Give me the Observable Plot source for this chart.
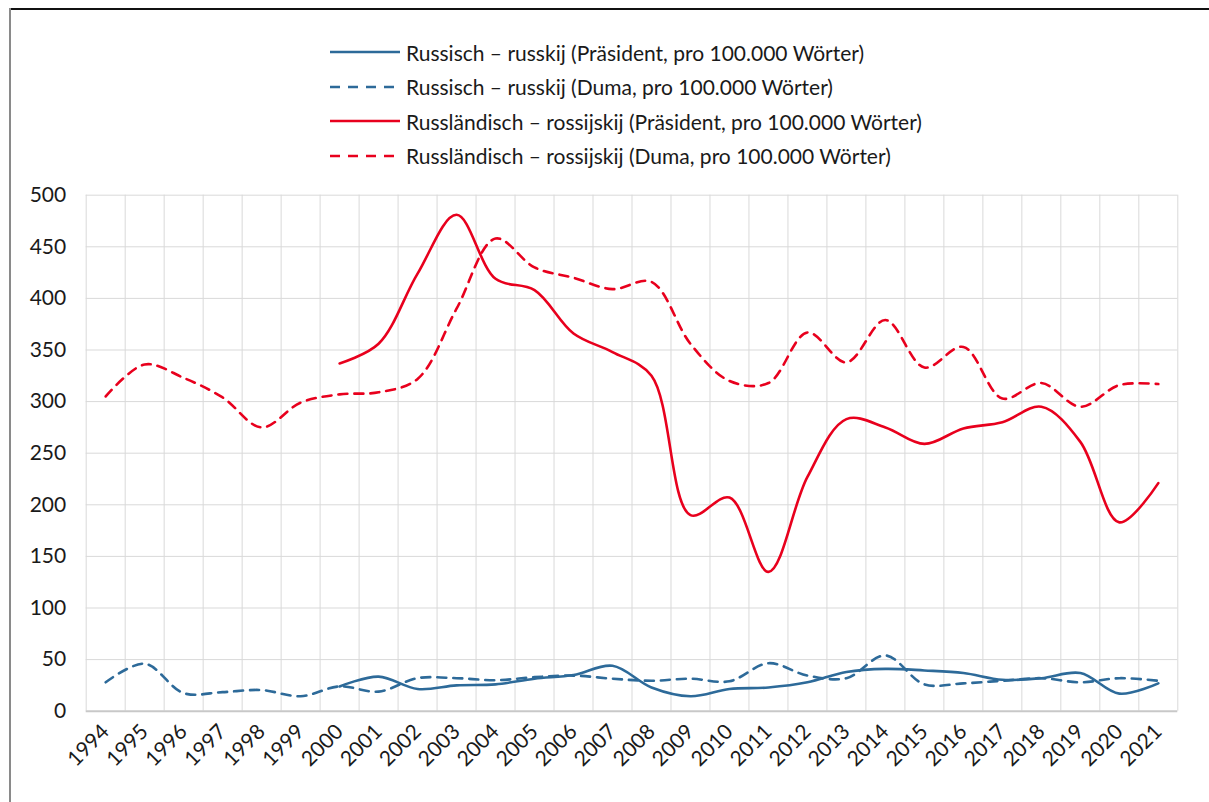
<!DOCTYPE html>
<html>
<head>
<meta charset="utf-8">
<script src="https://cdn.jsdelivr.net/npm/d3@7"></script>
<script src="https://cdn.jsdelivr.net/npm/@observablehq/plot@0.6"></script>
<style>
  html, body { margin: 0; padding: 0; background: #fff; }
  body { width: 1209px; height: 802px; position: relative; overflow: hidden; font-family: Lato, "Open Sans", sans-serif; }
  #frameTop { position: absolute; left: 10px; top: 8px; width: 1199px; height: 0; border-top: 2px solid #111; z-index: 10; }
  #frameLeft { position: absolute; left: 9px; top: 8px; width: 0; height: 794px; border-left: 2px solid #8a8a8a; z-index: 10; }
  #legend { position: absolute; left: 330px; top: 35px; }
  .row { height: 34.5px; display: flex; align-items: center; font-size: 21px; color: #1a1a1a; white-space: nowrap; }
  .row svg { margin-right: 6px; }
  #chart { position: absolute; left: 0; top: 180px; }
</style>
</head>
<body>
<div id="legend"></div>
<div id="chart"></div>
<div id="frameTop"></div>
<div id="frameLeft"></div>
<script>
const years = [1994,1995,1996,1997,1998,1999,2000,2001,2002,2003,2004,2005,2006,2007,2008,2009,2010,2011,2012,2013,2014,2015,2016,2017,2018,2019,2020,2021];
const presYears = [2000,2001,2002,2003,2004,2005,2006,2007,2008,2009,2010,2011,2012,2013,2014,2015,2016,2017,2018,2019,2020,2021];

const russkijPraesident = [24,33.5,21.5,25,26,31.5,35,44,23,14.5,21.5,23,28,38,41,39.5,37,30.5,32,37,17,27];
const russkijDuma = [28,46,17.5,18.5,20.5,14.5,24,19,32,32,30,33,34.5,31.5,29.5,31.5,29,46.5,34.5,32,54,26,27,29.5,32,28,32,29.5];
const rossijskijPraesident = [337,356,424,481,419,408,366,348,325,190,207,135,227,283,275,259,274,280,295,261,183,221];
const rossijskijDuma = [305,336,323,304,275,299,307,309,322,390,458,430,420,409,416,356,320,318,367,338,379,333,353,303,318,295,316,317];

const seriesNames = [
  "Russisch – russkij (Präsident, pro 100.000 Wörter)",
  "Russisch – russkij (Duma, pro 100.000 Wörter)",
  "Russländisch – rossijskij (Präsident, pro 100.000 Wörter)",
  "Russländisch – rossijskij (Duma, pro 100.000 Wörter)"
];
const yTicks = [0,50,100,150,200,250,300,350,400,450,500];

const BLUE = "#2d6a99";
const RED = "#e8001d";
const DASH = "9,7";

const styles = [
  {color: BLUE, dash: null},
  {color: BLUE, dash: DASH},
  {color: RED, dash: null},
  {color: RED, dash: DASH}
];

// Legend
const legend = document.getElementById("legend");
seriesNames.forEach((name, i) => {
  const row = document.createElement("div");
  row.className = "row";
  const s = styles[i];
  row.innerHTML = `<svg width="70" height="6"><line x1="0" x2="70" y1="3" y2="3" stroke="${s.color}" stroke-width="2.6" ${s.dash ? `stroke-dasharray="10,8"` : ""}/></svg><span>${name}</span>`;
  legend.appendChild(row);
});

const toRows = (xs, vs) => xs.map((x, i) => ({year: x, value: vs[i]}));
const dRusPres = toRows(presYears, russkijPraesident);
const dRusDuma = toRows(years, russkijDuma);
const dRosPres = toRows(presYears, rossijskijPraesident);
const dRosDuma = toRows(years, rossijskijDuma);

const gridX = years.map(y => y - 0.5).concat([years[years.length - 1] + 0.5]);

const W = 1209, H = 622;
const chart = Plot.plot({
  width: W,
  height: H,
  marginLeft: 85.7,
  marginRight: 31.7,
  marginTop: 14.7,
  marginBottom: 91.3,
  style: {fontFamily: "Lato, 'Open Sans', sans-serif", fontSize: "21px", color: "#1a1a1a", background: "white"},
  x: {domain: [years[0] - 0.5, years[years.length - 1] + 0.5], ticks: years, tickFormat: d => String(d), tickRotate: -45, tickSize: 0, tickPadding: 17, label: null},
  y: {domain: [0, 500], ticks: yTicks, tickSize: 0, tickPadding: 20, label: null},
  marks: [
    Plot.ruleX(gridX, {stroke: "#d9d9d9", strokeWidth: 1}),
    Plot.ruleY(yTicks.slice(1), {stroke: "#d9d9d9", strokeWidth: 1}),
    Plot.ruleY([0], {stroke: "#c8c8c8", strokeWidth: 2}),
    Plot.line(dRusDuma, {x: "year", y: "value", stroke: BLUE, strokeWidth: 2.6, strokeDasharray: DASH, curve: "catmull-rom"}),
    Plot.line(dRosDuma, {x: "year", y: "value", stroke: RED, strokeWidth: 2.6, strokeDasharray: DASH, curve: "catmull-rom"}),
    Plot.line(dRusPres, {x: "year", y: "value", stroke: BLUE, strokeWidth: 2.6, curve: "catmull-rom"}),
    Plot.line(dRosPres, {x: "year", y: "value", stroke: RED, strokeWidth: 2.6, curve: "catmull-rom"})
  ]
});
document.getElementById("chart").appendChild(chart);
</script>
</body>
</html>
